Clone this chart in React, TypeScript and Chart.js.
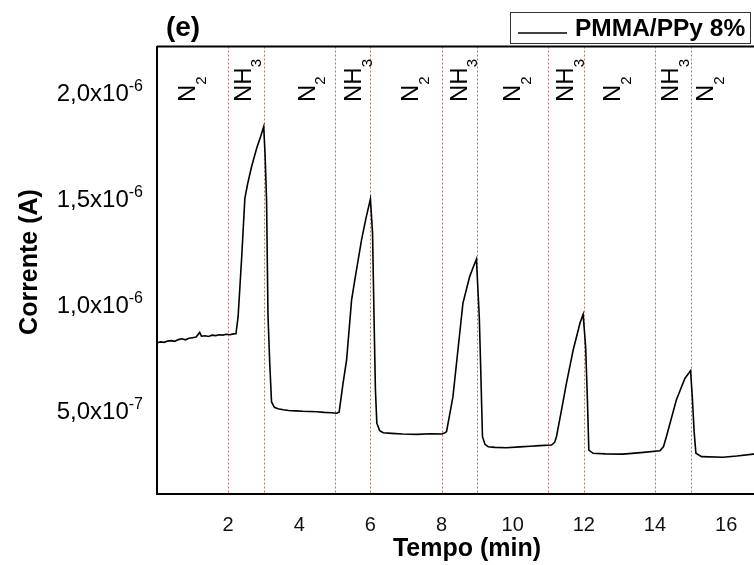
import React, { useEffect, useRef } from "react";
import { Chart, registerables } from "chart.js";

Chart.register(...registerables);

// ---- data ----
const timeMin: number[] = [
  0.0, 0.1, 0.2, 0.3, 0.4, 0.5, 0.6, 0.7, 0.8, 0.9, 1.0, 1.1, 1.2, 1.25, 1.35, 1.45, 1.55, 1.65, 1.75, 1.85, 1.95, 2.05, 2.15, 2.22,
  2.28, 2.38, 2.47, 2.55, 2.66, 2.8, 2.92, 3.0,
  3.04, 3.08, 3.12, 3.17, 3.22, 3.3, 3.4, 3.55, 3.7, 3.9, 4.1, 4.3, 4.5, 4.7, 4.9, 5.05, 5.12,
  5.23, 5.33, 5.47, 5.56, 5.75, 5.88, 6.0,
  6.06, 6.1, 6.14, 6.18, 6.26, 6.36, 6.6, 6.9, 7.3, 7.7, 8.0, 8.1,
  8.14, 8.32, 8.46, 8.6, 8.79, 8.9, 8.98,
  9.06, 9.1, 9.15, 9.22, 9.31, 9.5, 9.82, 10.2, 10.5, 10.76, 11.09,
  11.18, 11.23, 11.37, 11.51, 11.7, 11.89, 11.98,
  12.05, 12.1, 12.14, 12.26, 12.6, 13.1, 13.6, 14.14,
  14.24, 14.32, 14.6, 14.84, 15.0,
  15.05, 15.1, 15.15, 15.31, 15.91, 16.3, 16.76, 17.1, 17.4,
];

const currentA: number[] = [
  8.19e-7, 8.23e-7, 8.21e-7, 8.27e-7, 8.29e-7, 8.26e-7, 8.34e-7, 8.38e-7, 8.33e-7, 8.4e-7, 8.43e-7, 8.46e-7, 8.68e-7, 8.5e-7, 8.52e-7, 8.49e-7, 8.55e-7, 8.53e-7, 8.57e-7, 8.55e-7, 8.59e-7, 8.57e-7, 8.61e-7, 8.62e-7,
  9.42e-7, 1.22e-6, 1.5e-6, 1.57e-6, 1.65e-6, 1.735e-6, 1.795e-6, 1.838e-6,
  1.7e-6, 1.49e-6, 9.5e-7, 7.2e-7, 5.4e-7, 5.15e-7, 5.08e-7, 5.03e-7, 5.0e-7, 4.98e-7, 4.96e-7, 4.95e-7, 4.94e-7, 4.91e-7, 4.89e-7, 4.87e-7, 4.92e-7,
  6.28e-7, 7.38e-7, 1.02e-6, 1.115e-6, 1.304e-6, 1.41e-6, 1.497e-6,
  1.335e-6, 9.5e-7, 6.0e-7, 4.4e-7, 4.05e-7, 3.95e-7, 3.92e-7, 3.89e-7, 3.87e-7, 3.9e-7, 3.89e-7, 3.95e-7,
  4.0e-7, 5.65e-7, 7.85e-7, 1.005e-6, 1.131e-6, 1.18e-6, 1.213e-6,
  9.42e-7, 7.0e-7, 3.76e-7, 3.4e-7, 3.29e-7, 3.26e-7, 3.24e-7, 3.28e-7, 3.31e-7, 3.34e-7, 3.37e-7,
  3.5e-7, 3.76e-7, 5.0e-7, 6.28e-7, 7.85e-7, 9.11e-7, 9.53e-7,
  8.0e-7, 5.5e-7, 3.13e-7, 2.98e-7, 2.95e-7, 2.94e-7, 3.01e-7, 3.1e-7,
  3.3e-7, 3.76e-7, 5.49e-7, 6.51e-7, 6.87e-7,
  5.6e-7, 4.0e-7, 2.98e-7, 2.82e-7, 2.79e-7, 2.85e-7, 2.94e-7, 2.97e-7, 2.98e-7,
];

const switchTimes: number[] = [2, 3, 5, 6, 8, 9, 11, 12, 14, 15];

const xTickValues: number[] = [2, 4, 6, 8, 10, 12, 14, 16];

const yTickValues: number[] = [5e-7, 1e-6, 1.5e-6, 2e-6];
const yTickMantissas: string[] = ["5,0x10", "1,0x10", "1,5x10", "2,0x10"];
const yTickExponents: string[] = ["-7", "-6", "-6", "-6"];

const gasLabelTimes: number[] = [0.83, 2.4, 4.2, 5.5, 7.1, 8.47, 9.97, 11.46, 12.78, 14.41, 15.4];
const gasLabelMain: string[] = ["N", "NH", "N", "NH", "N", "NH", "N", "NH", "N", "NH", "N"];
const gasLabelSub: string[] = ["2", "3", "2", "3", "2", "3", "2", "3", "2", "3", "2"];

const seriesName = "PMMA/PPy 8%";
const panelLabel = "(e)";
const xTitle = "Tempo (min)";
const yTitle = "Corrente (A)";

const FONT = '"Liberation Sans", Arial, Helvetica, sans-serif';

const decorPlugin = {
  id: "decor",
  beforeDatasetsDraw(chart: any) {
    const { ctx, chartArea, scales } = chart;
    const x = scales.x;
    ctx.save();
    ctx.strokeStyle = "#b27a76";
    ctx.lineWidth = 1;
    ctx.setLineDash([2, 2]);
    switchTimes.forEach((t) => {
      const px = Math.round(x.getPixelForValue(t)) + 0.5;
      ctx.beginPath();
      ctx.moveTo(px, chartArea.top);
      ctx.lineTo(px, chartArea.bottom);
      ctx.stroke();
    });
    ctx.restore();
  },
  afterDraw(chart: any) {
    const { ctx, chartArea, scales } = chart;
    const x = scales.x;
    const y = scales.y;
    ctx.save();
    // frame top / right
    ctx.strokeStyle = "#000";
    ctx.lineWidth = 2;
    ctx.beginPath();
    ctx.moveTo(chartArea.left, chartArea.top);
    ctx.lineTo(chartArea.right, chartArea.top);
    ctx.lineTo(chartArea.right, chartArea.bottom);
    ctx.stroke();

    ctx.fillStyle = "#000";
    // y tick labels with superscripts
    const labelRight = 143;
    yTickValues.forEach((v, i) => {
      const py = y.getPixelForValue(v);
      ctx.font = `16px ${FONT}`;
      const supW = ctx.measureText(yTickExponents[i]).width;
      ctx.textAlign = "left";
      ctx.textBaseline = "alphabetic";
      ctx.fillText(yTickExponents[i], labelRight - supW, py - 1.5);
      ctx.font = `24px ${FONT}`;
      ctx.textAlign = "right";
      ctx.fillText(yTickMantissas[i], labelRight - supW, py + 8.6);
    });

    // y title
    ctx.save();
    ctx.translate(36.5, 262);
    ctx.rotate(-Math.PI / 2);
    ctx.font = `bold 25px ${FONT}`;
    ctx.textAlign = "center";
    ctx.textBaseline = "alphabetic";
    ctx.fillText(yTitle, 0, 0);
    ctx.restore();

    // gas labels
    gasLabelTimes.forEach((t, i) => {
      const px = x.getPixelForValue(t);
      ctx.save();
      ctx.translate(px + 8.6, 102);
      ctx.rotate(-Math.PI / 2);
      ctx.textAlign = "left";
      ctx.textBaseline = "alphabetic";
      ctx.font = `24px ${FONT}`;
      ctx.fillText(gasLabelMain[i], 0, 0);
      const w = ctx.measureText(gasLabelMain[i]).width;
      ctx.font = `15px ${FONT}`;
      ctx.fillText(gasLabelSub[i], w, 10.5);
      ctx.restore();
    });

    // panel label
    ctx.font = `bold 28px ${FONT}`;
    ctx.textAlign = "center";
    ctx.textBaseline = "middle";
    ctx.fillText(panelLabel, 183, 28);

    // legend
    ctx.strokeStyle = "#333";
    ctx.lineWidth = 1;
    ctx.strokeRect(510.5, 12.5, 240, 31);
    ctx.strokeStyle = "#000";
    ctx.lineWidth = 1.6;
    ctx.beginPath();
    ctx.moveTo(518, 33);
    ctx.lineTo(567, 33);
    ctx.stroke();
    ctx.font = `bold 24.5px ${FONT}`;
    ctx.textAlign = "left";
    ctx.textBaseline = "alphabetic";
    ctx.fillText(seriesName, 575, 36);
    ctx.restore();
  },
};

export default function App() {
  const ref = useRef<HTMLCanvasElement>(null);
  useEffect(() => {
    if (!ref.current) return;
    const chart = new Chart(ref.current, {
      type: "line",
      data: {
        datasets: [
          {
            label: seriesName,
            data: timeMin.map((t, i) => ({ x: t, y: currentA[i] })),
            borderColor: "#000",
            borderWidth: 1.6,
            pointRadius: 0,
            tension: 0,
            fill: false,
          },
        ],
      },
      options: {
        animation: false,
        responsive: false,
        layout: { padding: { top: 46.5, right: 1, left: 0, bottom: 0 } },
        plugins: { legend: { display: false }, tooltip: { enabled: false } },
        scales: {
          x: {
            type: "linear",
            min: 0,
            max: 17.43,
            grid: { display: false },
            border: { display: true, color: "#000", width: 2 },
            afterBuildTicks: (s: any) => {
              s.ticks = xTickValues.map((v) => ({ value: v }));
            },
            afterFit: (s: any) => {
              s.height = 71;
            },
            ticks: {
              font: { family: FONT, size: 20 },
              color: "#111",
              padding: 11,
              autoSkip: false,
              maxRotation: 0,
              callback: (v: any) => String(v),
            },
            title: {
              display: true,
              text: xTitle,
              font: { family: FONT, size: 25, weight: "bold" },
              color: "#000",
              padding: { top: 0, bottom: 1 },
            },
          },
          y: {
            type: "linear",
            min: 1.06e-7,
            max: 2.216e-6,
            grid: { display: false },
            border: { display: true, color: "#000", width: 2 },
            ticks: { display: false },
            afterFit: (s: any) => {
              s.width = 157;
            },
          },
        },
      } as any,
      plugins: [decorPlugin],
    });
    return () => chart.destroy();
  }, []);
  return (
    <div
      style={{
        position: "fixed",
        left: 0,
        top: 0,
        width: 754,
        height: 565,
        overflow: "hidden",
        background: "#fff",
      }}
    >
      <div style={{ width: 778, height: 565 }}>
        <canvas ref={ref} width={778} height={565} style={{ display: "block", width: 778, height: 565 }} />
      </div>
    </div>
  );
}
